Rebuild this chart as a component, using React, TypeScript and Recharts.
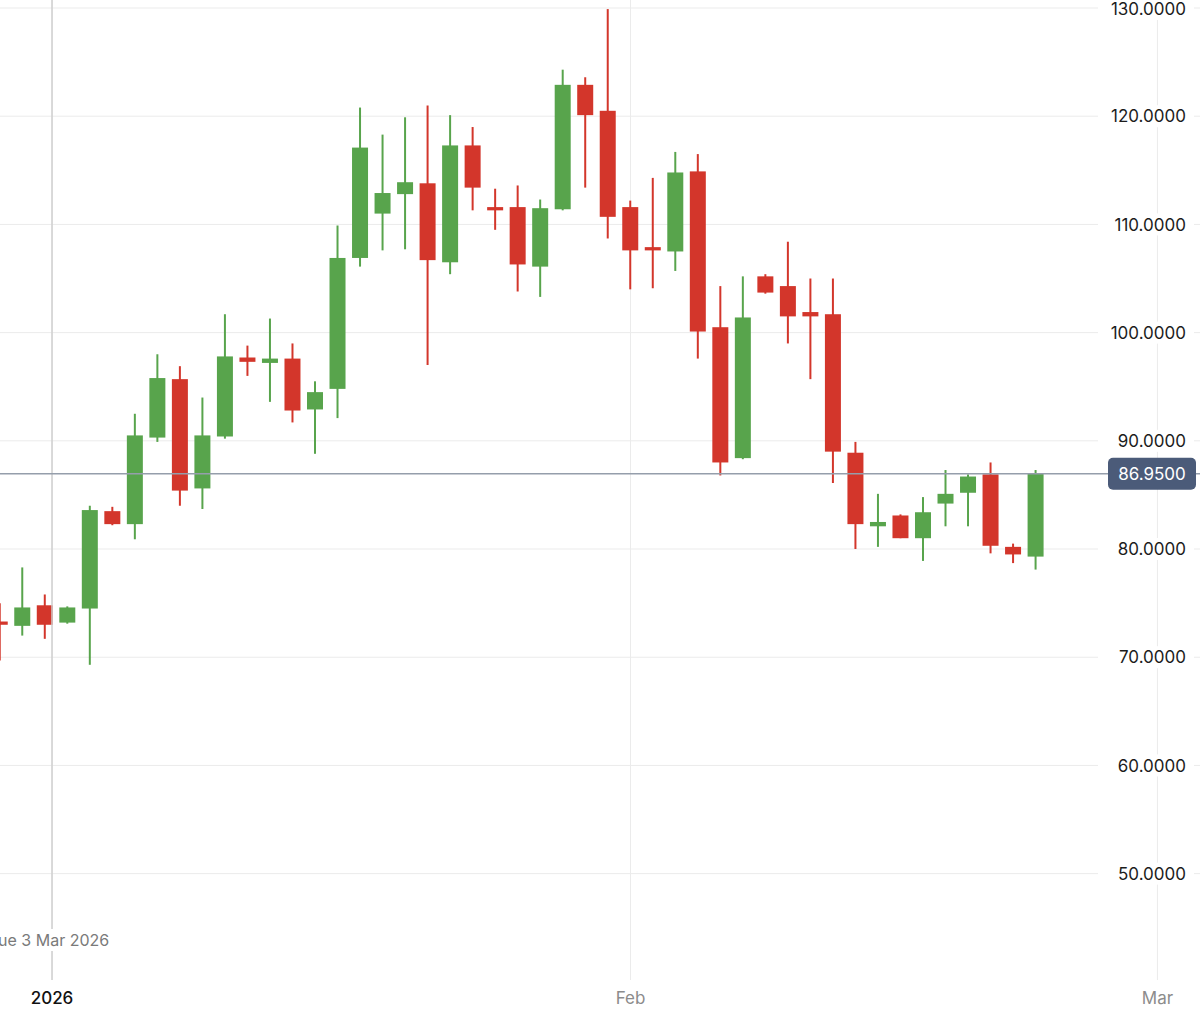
import { ComposedChart, Bar, XAxis, YAxis, CartesianGrid, ReferenceLine } from "recharts";

// daily candles (oldest first)
const opens = [
  73.3, 72.9, 74.8, 73.2, 74.5, 83.5, 82.3, 90.3, 95.7, 85.6, 90.4, 97.7, 97.2, 97.6, 92.9, 94.8,
  106.9, 111.0, 112.8, 113.8, 106.5, 117.3, 111.6, 111.6, 106.1, 111.4, 122.9, 120.5, 111.6, 107.9,
  107.5, 114.9, 100.5, 88.4, 105.2, 104.3, 101.9, 101.7, 88.9, 82.1, 83.1, 81.0, 84.2, 85.2, 86.9,
  80.2, 79.3,
];
const highs = [
  75.0, 78.3, 75.8, 74.7, 84.0, 83.9, 92.5, 98.0, 96.9, 94.0, 101.7, 98.8, 101.3, 99.0, 95.5, 109.9,
  120.8, 118.3, 119.9, 121.0, 120.1, 119.0, 113.3, 113.6, 112.3, 124.3, 123.6, 129.9, 112.2, 114.3,
  116.7, 116.5, 104.3, 105.2, 105.4, 108.4, 105.0, 105.0, 89.9, 85.1, 83.2, 84.8, 87.3, 86.9, 88.0,
  80.5, 87.3,
];
const lows = [
  69.7, 72.0, 71.7, 73.1, 69.3, 82.2, 80.9, 89.9, 84.0, 83.7, 90.2, 96.0, 93.6, 91.7, 88.8, 92.1,
  106.1, 107.6, 107.7, 97.0, 105.4, 111.3, 109.5, 103.8, 103.3, 111.3, 113.4, 108.7, 104.0, 104.1,
  105.7, 97.6, 86.8, 88.3, 103.6, 99.0, 95.7, 86.1, 80.0, 80.2, 81.0, 78.9, 82.1, 82.1, 79.6,
  78.7, 78.1,
];
const closes = [
  73.0, 74.6, 73.0, 74.6, 83.6, 82.3, 90.5, 95.8, 85.4, 90.5, 97.8, 97.3, 97.6, 92.8, 94.5, 106.9,
  117.1, 112.9, 113.9, 106.7, 117.3, 113.4, 111.3, 106.3, 111.5, 122.9, 120.1, 110.7, 107.6, 107.6,
  114.8, 100.1, 88.0, 101.4, 103.7, 101.5, 101.5, 89.0, 82.3, 82.5, 81.0, 83.4, 85.1, 86.7, 80.3,
  79.5, 86.95,
];

const xTicks = [2.31, 28, 51.4];
const xTickLabels = ["2026", "Feb", "Mar"];
const yTicks = [50, 60, 70, 80, 90, 100, 110, 120, 130];
const lastPrice = 86.95;
const crosshairX = 2.31;
const crosshairLabel = "Tue 3 Mar 2026";

const GREEN = "#58a44c";
const RED = "#d3362b";
const FONT = "Inter, 'Open Sans', sans-serif";

const data = opens.map((open, i) => ({
  i,
  open,
  high: highs[i],
  low: lows[i],
  close: closes[i],
  range: [lows[i], highs[i]],
}));

function Candle(props: any) {
  const { x, y, width, height, payload } = props;
  const { open, close, high, low } = payload;
  const color = close >= open ? GREEN : RED;
  const k = height / (high - low);
  const top = y + (high - Math.max(open, close)) * k;
  const h = Math.max(Math.abs(open - close) * k, 3);
  const cx = x + width / 2;
  return (
    <g>
      <line x1={cx} x2={cx} y1={y} y2={y + height} stroke={color} strokeWidth={2} />
      <rect x={x} y={top} width={width} height={h} fill={color} />
    </g>
  );
}

function PriceTick(props: any) {
  const { y, payload } = props;
  return (
    <g>
      <rect x={1098} y={y - 11} width={96} height={22} fill="#fff" />
      <text x={1186} y={y} dy="0.36em" textAnchor="end" fill="#1c1c1c" fontSize={17} fontFamily={FONT}>
        {payload.value.toFixed(4)}
      </text>
    </g>
  );
}

function DateTick(props: any) {
  const { x, y, index } = props;
  const first = index === 0;
  return (
    <text
      x={x}
      y={y + 16}
      textAnchor="middle"
      fill={first ? "#111" : "#8c8c8c"}
      fontWeight={first ? 500 : 400}
      fontSize={17}
      fontFamily={FONT}
    >
      {xTickLabels[index]}
    </text>
  );
}

function CrosshairLabel(props: any) {
  const { viewBox } = props;
  const cx = viewBox.x;
  const cy = viewBox.y + viewBox.height - 40;
  return (
    <g>
      <rect x={cx - 62} y={cy - 11} width={124} height={22} fill="#fff" />
      <text x={cx - 3} y={cy} dy="0.36em" textAnchor="middle" fill="#7a7a7a" fontSize={16} fontFamily={FONT}>
        {crosshairLabel}
      </text>
    </g>
  );
}

function PriceBadge(props: any) {
  const { viewBox } = props;
  const y = viewBox.y;
  return (
    <g>
      <rect x={1108} y={y - 16} width={88} height={32} rx={5} fill="#4b5b79" />
      <text x={1152} y={y} dy="0.36em" textAnchor="middle" fill="#fff" fontSize={17} fontFamily={FONT}>
        {lastPrice.toFixed(4)}
      </text>
    </g>
  );
}

export default function App() {
  return (
    <div style={{ width: 1200, height: 1010, background: "#fff" }}>
      <style>{"body{margin:0}"}</style>
      <ComposedChart width={1200} height={1010} data={data} margin={{ top: 0, right: 0, left: 0, bottom: 0 }}>
        <CartesianGrid stroke="#ebebeb" strokeWidth={1} horizontalValues={yTicks} verticalValues={xTicks} />
        <XAxis
          type="number"
          dataKey="i"
          domain={[0, 53.29]}
          ticks={xTicks}
          allowDataOverflow
          axisLine={false}
          tickLine={false}
          height={30}
          tick={<DateTick />}
        />
        <YAxis
          orientation="right"
          mirror
          domain={[40.17, 130.74]}
          ticks={yTicks}
          allowDataOverflow
          axisLine={false}
          tickLine={false}
          tick={<PriceTick />}
        />
        <ReferenceLine x={crosshairX} stroke="#cfcfcf" strokeWidth={1.5} label={<CrosshairLabel />} />
        <Bar dataKey="range" barSize={16} shape={<Candle />} isAnimationActive={false} />
        <ReferenceLine y={lastPrice} stroke="#959eab" strokeWidth={1.5} label={<PriceBadge />} />
      </ComposedChart>
    </div>
  );
}
